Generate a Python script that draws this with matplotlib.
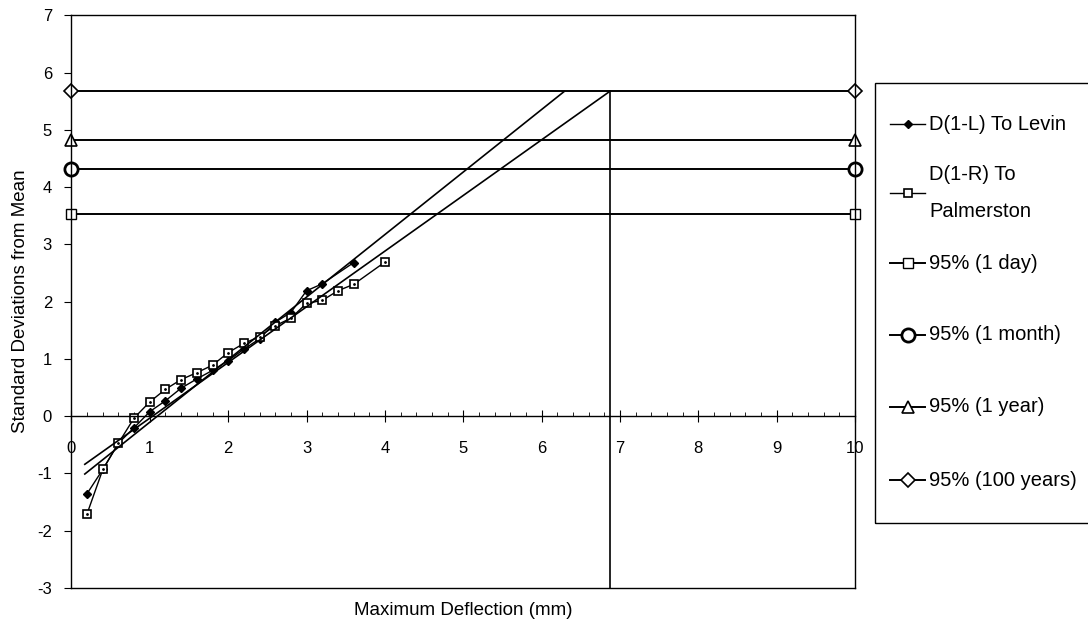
import numpy as np
import matplotlib.pyplot as plt
from matplotlib.ticker import MultipleLocator
from matplotlib.patches import Rectangle
from matplotlib.lines import Line2D

plt.rcParams['font.family'] = ['Liberation Sans', 'DejaVu Sans']
plt.rcParams['axes.unicode_minus'] = False

# measured deflections (mm) and their normal scores
levin_x = [0.2, 0.4, 0.6, 0.8, 1.0, 1.2, 1.4, 1.6, 1.8, 2.0, 2.2, 2.4, 2.6, 2.8, 3.0, 3.2, 3.6]
levin_y = [-1.35, -0.93, -0.47, -0.20, 0.08, 0.27, 0.49, 0.65, 0.80, 0.97, 1.17, 1.35, 1.64, 1.81, 2.19, 2.31, 2.68]

palm_x = [0.2, 0.4, 0.6, 0.8, 1.0, 1.2, 1.4, 1.6, 1.8, 2.0, 2.2, 2.4, 2.6, 2.8, 3.0, 3.2, 3.4, 3.6, 4.0]
palm_y = [-1.70, -0.93, -0.47, -0.03, 0.25, 0.47, 0.64, 0.76, 0.89, 1.11, 1.27, 1.39, 1.58, 1.71, 1.97, 2.02, 2.19, 2.30, 2.69]

# straight-line fits carried up to the 100 year level
levin_fit_x = [0.17, 6.29]
levin_fit_y = [-1.01, 5.67]
palm_fit_x = [0.17, 6.87]
palm_fit_y = [-0.84, 5.67]

# drop line from the fit / 100 year intersection
drop_x = [6.87, 6.87]
drop_y = [5.67, -3.0]

# 95% levels for each return period
limit_x = [0, 10]
day_y = 3.53
month_y = 4.32
year_y = 4.82
century_y = 5.67

fig = plt.figure(figsize=(10.88, 6.35), dpi=100)
ax = fig.add_axes([0.0657, 0.074, 0.7201, 0.902])

l1, = ax.plot(levin_x, levin_y, color='black', lw=1, marker='D', ms=4.5,
              mfc='black', mec='black', label='D(1-L) To Levin')
l2, = ax.plot(palm_x, palm_y, color='black', lw=1, marker='s', ms=6,
              mfc='white', mec='black', mew=1.2, label='D(1-R) To\nPalmerston')
ax.plot(palm_x, palm_y, ls='none', marker='.', ms=2, color='black')

ax.plot(levin_fit_x, levin_fit_y, color='black', lw=1.2)
ax.plot(palm_fit_x, palm_fit_y, color='black', lw=1.2)
ax.plot(drop_x, drop_y, color='black', lw=1.2)

l3, = ax.plot(limit_x, [day_y, day_y], color='black', lw=1.4, marker='s', ms=7,
              mfc='white', mec='black', label='95% (1 day)', clip_on=False)
l4, = ax.plot(limit_x, [month_y, month_y], color='black', lw=1.4, marker='o', ms=9.5,
              mfc='white', mec='black', mew=2, label='95% (1 month)', clip_on=False)
l5, = ax.plot(limit_x, [year_y, year_y], color='black', lw=1.4, marker='^', ms=8.5,
              mfc='white', mec='black', mew=1.2, label='95% (1 year)', clip_on=False)
l6, = ax.plot(limit_x, [century_y, century_y], color='black', lw=1.4, marker='D', ms=7,
              mfc='white', mec='black', mew=1.2, label='95% (100 years)', clip_on=False)

ax.set_xlim(0, 10)
ax.set_ylim(-3, 7)

# x axis runs through zero, frame closed along the bottom
ax.spines['bottom'].set_position(('data', 0))
ax.plot([0, 1], [0, 0], transform=ax.transAxes, color='black', lw=1, clip_on=False)
for s in ax.spines.values():
    s.set_linewidth(1)

ax.xaxis.set_major_locator(MultipleLocator(1))
ax.xaxis.set_minor_locator(MultipleLocator(0.2))
ax.yaxis.set_major_locator(MultipleLocator(1))
ax.tick_params(axis='x', which='major', direction='inout', length=8, pad=14, labelsize=12)
ax.tick_params(axis='x', which='minor', direction='in', length=3)
ax.tick_params(axis='y', which='major', direction='out', length=5, pad=9, labelsize=12)

ax.set_xlabel('Maximum Deflection (mm)', fontsize=13.5)
ax.set_ylabel('Standard Deviations from Mean', fontsize=13.5)
ax.xaxis.set_label_coords(0.5, -0.025)
ax.yaxis.set_label_coords(-0.054, 0.5)

# legend: evenly spaced entries in a box that runs off the right edge
W, H = 1088, 635
fig.patches.append(Rectangle((875 / W, 1 - 523 / H), 0.25, 440 / H,
                             transform=fig.transFigure, fill=False,
                             edgecolor='black', lw=1))
entry_y = [124, 193.5, 263, 335, 407, 480]
for line, yc in zip([l1, l2, l3, l4, l5, l6], entry_y):
    y = 1 - yc / H
    key = Line2D([890 / W, 907.5 / W, 925 / W], [y, y, y])
    key.update_from(line)
    key.set_transform(fig.transFigure)
    key.set_clip_on(False)
    key.set_markevery([1])
    fig.add_artist(key)
    fig.text(929 / W, y, line.get_label(), ha='left', va='center',
             fontsize=14.5, linespacing=2.2)

fig.savefig('out.png', dpi=100)
